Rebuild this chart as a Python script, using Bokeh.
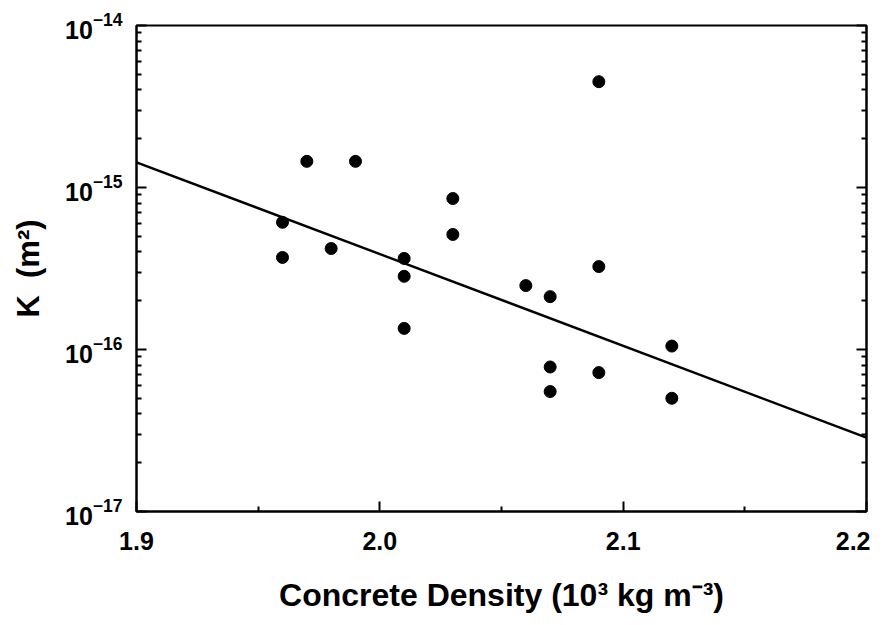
from bokeh.plotting import figure
from bokeh.models import FixedTicker, LogAxis, LogTickFormatter
from bokeh.embed import file_html
from bokeh.resources import INLINE

density = [1.96, 1.96, 1.97, 1.98, 1.99, 2.01, 2.01, 2.01, 2.03, 2.03,
           2.06, 2.07, 2.07, 2.07, 2.09, 2.09, 2.09, 2.12, 2.12]
perm = [6.1e-16, 3.7e-16, 1.45e-15, 4.2e-16, 1.45e-15, 3.65e-16, 2.83e-16, 1.35e-16,
        8.55e-16, 5.13e-16, 2.48e-16, 2.12e-16, 7.8e-17, 5.5e-17, 4.5e-15, 3.25e-16,
        7.2e-17, 1.05e-16, 5.0e-17]
fit_x = [1.9, 2.2]
fit_k = [1.43e-15, 2.86e-17]

x_ticks = [1.9, 2.0, 2.1, 2.2]
x_labels = {1.9: "1.9", 2.0: "2.0", 2.1: "2.1", 2.2: "2.2"}
x_minor = [1.95, 2.05, 2.15]
y_ticks = [1e-17, 1e-16, 1e-15, 1e-14]
y_minor = [m * 10.0 ** e for e in (-17, -16, -15) for m in range(2, 10)]

FONT = "Liberation Sans"

p = figure(width=870, height=620, y_axis_type="log",
           x_range=(1.9, 2.2), y_range=(1e-17, 1e-14),
           output_backend="svg", toolbar_location=None,
           min_border_left=136, min_border_right=4,
           min_border_top=25, min_border_bottom=109)
p.grid.visible = False
p.outline_line_color = "black"
p.outline_line_width = 2
p.background_fill_color = "white"
p.border_fill_color = "white"

xa = p.xaxis[0]
xa.ticker = FixedTicker(ticks=x_ticks, minor_ticks=x_minor)
xa.major_label_overrides = x_labels
xa.axis_label = "Concrete Density (10³ kg m⁻³)"
ya = p.yaxis[0]
ya.ticker = FixedTicker(ticks=y_ticks, minor_ticks=y_minor)
ya.formatter = LogTickFormatter()
ya.axis_label = "K\u00a0\u00a0(m²)"

for ax in (xa, ya):
    ax.axis_line_width = 2
    ax.axis_line_color = "black"
    ax.major_tick_in = 10
    ax.major_tick_out = 0
    ax.minor_tick_in = 5
    ax.minor_tick_out = 0
    ax.major_tick_line_width = 2
    ax.minor_tick_line_width = 2
    ax.major_label_text_font = FONT
    ax.major_label_text_font_style = "bold"
    ax.major_label_text_font_size = "25px"
    ax.major_label_text_color = "black"
    ax.axis_label_text_font = FONT
    ax.axis_label_text_font_style = "bold"
    ax.axis_label_text_color = "black"

xa.major_label_standoff = 20
xa.axis_label_standoff = 24
xa.axis_label_text_font_size = "32px"
ya.major_label_standoff = 14
ya.axis_label_standoff = 16
ya.axis_label_text_font_size = "31px"

ra = LogAxis(ticker=FixedTicker(ticks=y_ticks, minor_ticks=y_minor))
ra.major_label_overrides = {t: "" for t in y_ticks}
ra.major_tick_in = 10
ra.major_tick_out = 0
ra.minor_tick_in = 5
ra.minor_tick_out = 0
ra.axis_line_width = 2
ra.major_tick_line_width = 2
ra.minor_tick_line_width = 2
p.add_layout(ra, "right")

p.line(fit_x, fit_k, line_color="black", line_width=2.4)
p.scatter(density, perm, size=12, fill_color="black", line_color="black")

open("out.html", "w").write(file_html(p, INLINE))
